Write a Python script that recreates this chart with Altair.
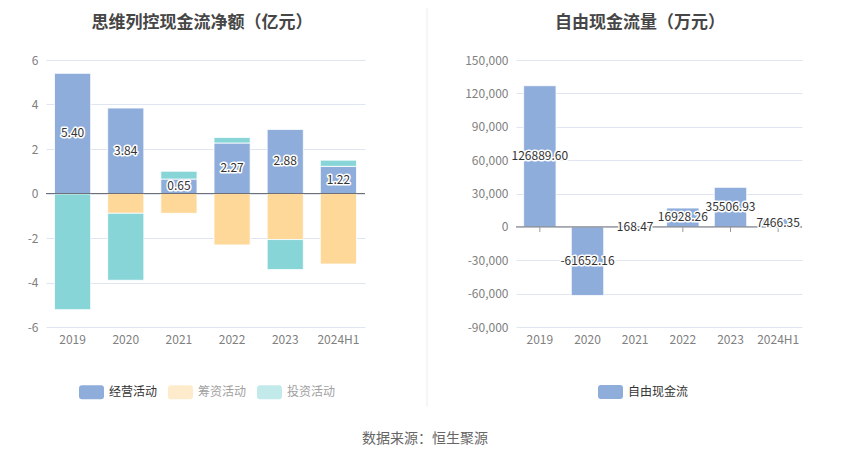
import altair as alt
import pandas as pd

# ---------------- data ----------------
years = ["2019", "2020", "2021", "2022", "2023", "2024H1"]
series_names = ["经营活动", "筹资活动", "投资活动"]
operating = [5.40, 3.84, 0.65, 2.27, 2.88, 1.22]
financing = [-0.02, -0.89, -0.89, -2.31, -2.07, -3.17]
investing = [-5.20, -3.01, 0.35, 0.25, -1.35, 0.28]
fcf_name = "自由现金流"
fcf = [126889.60, -61652.16, 168.47, 16928.26, 35506.93, 7466.35]

left_title = "思维列控现金流净额（亿元）"
right_title = "自由现金流量（万元）"
source_note = "数据来源：恒生聚源"
left_ticks = [-6, -4, -2, 0, 2, 4, 6]
right_ticks = [-90000, -60000, -30000, 0, 30000, 60000, 90000, 120000, 150000]

# ---------------- style ----------------
FONT = "Noto Sans CJK SC"
series_colors = ["#8eaddb", "#fed899", "#88d5d8"]
BLUE = series_colors[0]
AXIS_LINE = "#6e7079"
LABEL_GREY = "#808080"
GRID = "#e0e6f1"
LW, RW, H = 319, 286, 267
GAP = 151
SYMBOL = ("M-0.76,-0.56L0.76,-0.56Q1,-0.56,1,-0.32L1,0.32Q1,0.56,0.76,0.56"
          "L-0.76,0.56Q-1,0.56,-1,0.32L-1,-0.32Q-1,-0.56,-0.76,-0.56Z")

rows = []
for i, (name, vals) in enumerate(zip(series_names, [operating, financing, investing])):
    for y, v in zip(years, vals):
        rows.append({"year": y, "series": name, "order": i, "value": v})
df_left = pd.DataFrame(rows)
df_ops = pd.DataFrame({"year": years, "value": operating,
                       "mid": [v / 2 for v in operating],
                       "label": [f"{v:.2f}" for v in operating]})
df_fcf = pd.DataFrame({"year": years, "value": fcf, "series": fcf_name,
                       "mid": [v / 2 for v in fcf],
                       "label": [f"{v:.2f}" for v in fcf]})
one = alt.Data(values=[{}])


def x_enc():
    return alt.X("year:N", sort=years,
                 scale=alt.Scale(paddingInner=0.32, paddingOuter=0.16),
                 axis=alt.Axis(title=None, labelAngle=0, ticks=False, tickSize=0,
                               domain=False, labelPadding=7, grid=False))


def y_axis(values, fmt):
    return alt.Axis(title=None, values=values, grid=True, gridColor=GRID,
                    ticks=False, tickSize=0, domain=False, labelPadding=8,
                    labelOverlap=False, labelSeparation=0,
                    labelExpr=f"datum.value < 0 ? '-' + format(-datum.value, '{fmt}') : format(datum.value, '{fmt}')")


def legend(x, first_only):
    kw = dict(title=None, orient="none", legendX=x, legendY=319.5,
              direction="horizontal", symbolType=SYMBOL, symbolSize=625,
              symbolStrokeWidth=0, labelFontSize=12, labelFont=FONT,
              labelOffset=5, columnPadding=10, padding=0)
    if first_only:
        kw["symbolOpacity"] = {"expr": f"datum.value == '{series_names[0]}' ? 1 : 0.5"}
        kw["labelColor"] = {"expr": f"datum.value == '{series_names[0]}' ? '#333333' : '#a0a0a0'"}
    else:
        kw["labelColor"] = "#333333"
        kw["symbolOpacity"] = 1
    return alt.Legend(**kw)


def title_text(txt, x):
    return alt.Chart(one).mark_text(
        text=txt, font=FONT, fontSize=17, fontWeight="bold", color="#464646",
        align="center", baseline="alphabetic").encode(x=alt.value(x), y=alt.value(-32))


# ---------------- left chart ----------------
yl = alt.Scale(domain=[-6, 6], nice=False, zero=False)
left_axis = y_axis(left_ticks, "d")
left_bars = alt.Chart(df_left).mark_bar(stroke="white", strokeWidth=0.8).encode(
    x=x_enc(),
    y=alt.Y("value:Q", stack="zero", scale=yl, axis=left_axis),
    color=alt.Color("series:N", scale=alt.Scale(domain=series_names, range=series_colors),
                    legend=legend(33, True)),
    order=alt.Order("order:Q"),
)
left_zero = alt.Chart(one).mark_rule(color=AXIS_LINE, strokeWidth=1).encode(
    y=alt.YDatum(0, scale=yl, axis=left_axis), x=alt.value(0), x2=alt.value(LW))
left_halo = alt.Chart(df_ops).mark_text(
    font=FONT, fontSize=12, color="white", stroke="white", strokeWidth=3,
    strokeJoin="round").encode(x=alt.X("year:N", sort=years),
                               y=alt.Y("mid:Q", scale=yl, axis=left_axis), text="label:N")
left_lbl = alt.Chart(df_ops).mark_text(font=FONT, fontSize=12, color="#333333").encode(
    x=alt.X("year:N", sort=years), y=alt.Y("mid:Q", scale=yl, axis=left_axis), text="label:N")
separator = alt.Chart(one).mark_rule(color="#ececec", strokeWidth=1).encode(
    x=alt.value(381), y=alt.value(-52), y2=alt.value(347))
source = alt.Chart(one).mark_text(
    text=source_note, font=FONT, fontSize=14, color="#666666",
    align="center", baseline="middle").encode(x=alt.value(379), y=alt.value(378.5))

left = alt.layer(left_bars, left_zero, left_halo, left_lbl,
                 title_text(left_title, 156), separator, source).properties(width=LW, height=H)

# ---------------- right chart ----------------
yr = alt.Scale(domain=[-90000, 150000], nice=False, zero=False)
right_axis = y_axis(right_ticks, ",")
right_ticks_mark = alt.Chart(df_fcf).mark_tick(
    orient="vertical", size=5, thickness=1, color=AXIS_LINE, yOffset=2.5).encode(
    x=x_enc(), y=alt.YDatum(0, scale=yr, axis=right_axis))
right_bars = alt.Chart(df_fcf).mark_bar(stroke="white", strokeWidth=0.8).encode(
    x=x_enc(),
    y=alt.Y("value:Q", scale=yr, axis=right_axis),
    color=alt.Color("series:N", scale=alt.Scale(domain=[fcf_name], range=[BLUE]),
                    legend=legend(82, False)),
)
right_zero = alt.Chart(one).mark_rule(color=AXIS_LINE, strokeWidth=1).encode(
    y=alt.YDatum(0, scale=yr, axis=right_axis), x=alt.value(0), x2=alt.value(RW))
right_halo = alt.Chart(df_fcf).mark_text(
    font=FONT, fontSize=12, color="white", stroke="white", strokeWidth=3,
    strokeJoin="round").encode(x=alt.X("year:N", sort=years),
                               y=alt.Y("mid:Q", scale=yr, axis=right_axis), text="label:N")
right_lbl = alt.Chart(df_fcf).mark_text(font=FONT, fontSize=12, color="#333333").encode(
    x=alt.X("year:N", sort=years), y=alt.Y("mid:Q", scale=yr, axis=right_axis), text="label:N")

right = alt.layer(right_ticks_mark, right_bars, right_zero, right_halo, right_lbl,
                  title_text(right_title, 124)).properties(width=RW, height=H)

chart = alt.hconcat(left, right, spacing=GAP, bounds="flush").resolve_scale(
    color="independent", x="independent", y="independent"
).resolve_legend(color="independent").properties(
    autosize=alt.AutoSizeParams(type="none"),
    padding={"left": 38, "top": 52, "right": 796, "bottom": 391},
).configure_view(stroke=None).configure_axis(
    labelFont=FONT, labelFontSize=12, labelColor=LABEL_GREY, labelOverlap=False
)

chart.save("out.html", embed_options={"renderer": "svg", "actions": False})
